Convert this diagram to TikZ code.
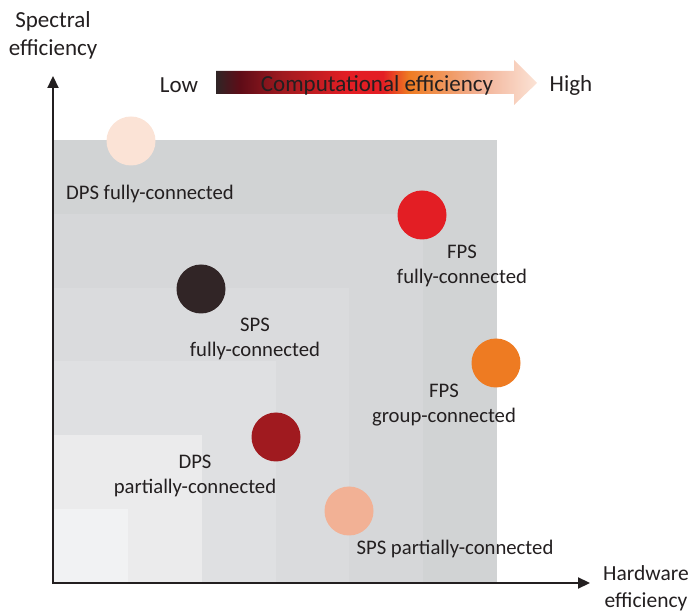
\documentclass[tikz,border=0pt]{standalone}
\usepackage{fontspec}
\setmainfont{Carlito}
\usetikzlibrary{arrows.meta,positioning}
\definecolor{txt}{RGB}{35,31,32}
\definecolor{sqA}{RGB}{209,211,212}
\definecolor{sqB}{RGB}{214,215,217}
\definecolor{sqC}{RGB}{218,219,221}
\definecolor{sqD}{RGB}{223,224,226}
\definecolor{sqE}{RGB}{235,235,236}
\definecolor{sqF}{RGB}{241,242,243}
\definecolor{dpsF}{RGB}{251,227,214}
\definecolor{fpsF}{RGB}{227,30,36}
\definecolor{spsF}{RGB}{49,37,38}
\definecolor{fpsG}{RGB}{238,123,34}
\definecolor{dpsP}{RGB}{160,26,31}
\definecolor{spsP}{RGB}{242,177,149}
\definecolor{gA}{RGB}{47,37,38}
\definecolor{gB}{RGB}{94,12,23}
\pgfdeclarehorizontalshading{compgrad}{100bp}{color(0bp)=(gA); color(25bp)=(gA);
  color(28.7bp)=(gB); color(35.4bp)=(dpsP); color(45.4bp)=(fpsF); color(51bp)=(fpsF);
  color(55bp)=(fpsG); color(66bp)=(spsP); color(75bp)=(dpsF); color(100bp)=(dpsF)}
\begin{document}
\begin{tikzpicture}[x=1pt, y=-1pt,
  every node/.style = {text=txt},
  lbl/.style = {font=\fontsize{20.7}{25}\selectfont, align=center},
  axlbl/.style = {font=\fontsize{23}{28}\selectfont, align=center},
  dot/.style = {circle, minimum size=49pt, inner sep=0pt},
  axis/.style = {line width=2.2pt, draw=txt,
    {Triangle[length=12pt,width=11pt]}-{Triangle[length=12pt,width=11pt]}}
  ]
  \useasboundingbox (0,0) rectangle (697,612);
  \foreach \i/\c in {0/sqA,1/sqB,2/sqC,3/sqD,4/sqE,5/sqF}
    \fill[\c] (54,583) rectangle ({497-73.8*\i},{140+73.8*\i});
  \coordinate (ytop) at (53,76);
  \coordinate (orig) at (53,583);
  \coordinate (xend) at (590,583);
  \draw[axis] (ytop) -- (orig) -- (xend);
  \node[axlbl] (ylbl) at (53,35) {Spectral\\efficiency};
  \node[axlbl, font=\fontsize{21.5}{27}\selectfont] (xlbl) at (646,588) {Hardware\\efficiency};
  \shade[shading=compgrad] (216,71) -- (514,71) -- (514,60) -- (537,83)
    -- (514,105) -- (514,94) -- (216,94) -- cycle;
  \node[axlbl] (low) at (179,85) {Low};
  \node[axlbl] (high) at (571,85) {High};
  \node[axlbl] (comp) at (377,85) {Computational efficiency};
  \node[dot, fill=dpsF] (dpsfull) at (131,141) {};
  \node[dot, fill=fpsF] (fpsfull) at (422,215) {};
  \node[dot, fill=spsF] (spsfull) at (201,289) {};
  \node[dot, fill=fpsG] (fpsgroup) at (496,363) {};
  \node[dot, fill=dpsP] (dpspart) at (276,437) {};
  \node[dot, fill=spsP] (spspart) at (349,511) {};
  \node[lbl] (dpsfullL) at (150,194) {DPS fully-connected};
  \node[lbl] (fpsfullL) at (462,266) {FPS\\fully-connected};
  \node[lbl] (spsfullL) at (255,339) {SPS\\fully-connected};
  \node[lbl] (fpsgroupL) at (444,405) {FPS\\group-connected};
  \node[lbl] (dpspartL) at (195,476) {DPS\\partially-connected};
  \node[lbl] (spspartL) at (455,549) {SPS partially-connected};
\end{tikzpicture}
\end{document}
